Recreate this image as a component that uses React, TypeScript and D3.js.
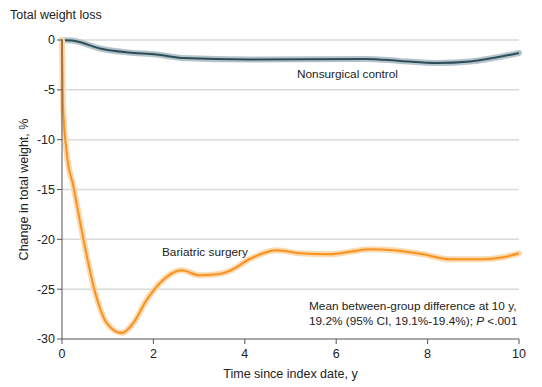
import React from "react";
import * as d3 from "d3";

const years = [0, 2, 4, 6, 8, 10];
const pctTicks = [0, -5, -10, -15, -20, -25, -30];

const surgeryYears = [0, 0.02, 0.1, 0.25, 0.47, 0.69, 0.98, 1.31, 1.56, 1.85, 2.14, 2.62, 3.0, 3.4, 3.7, 4.1, 4.7, 5.2, 5.86, 6.3, 6.74, 7.24, 7.9, 8.49, 9.2, 9.65, 10];
const surgeryPct = [0, -6.4, -11.2, -14.7, -20, -24.7, -28.4, -29.4, -28.4, -26.1, -24.4, -23.1, -23.6, -23.5, -23.1, -22.0, -21.1, -21.4, -21.5, -21.25, -21.0, -21.1, -21.5, -22.0, -22.0, -21.8, -21.4];

const controlYears = [0, 0.25, 0.83, 1.45, 2.07, 2.62, 4.1, 6.65, 7.4, 8.2, 8.93, 10];
const controlPct = [0, -0.07, -0.85, -1.25, -1.45, -1.8, -1.95, -1.9, -2.1, -2.3, -2.15, -1.3];

const width = 542;
const height = 387;
const margin = { top: 40, left: 62, bottom: 48, right: 23 };
const font = "'Liberation Sans Narrow', 'Liberation Sans', sans-serif";

const x = d3.scaleLinear().domain([0, 10]).range([margin.left, width - margin.right]);
const y = d3.scaleLinear().domain([0, -30]).range([margin.top, height - margin.bottom]);

const line = d3
  .line<[number, number]>()
  .x((d) => x(d[0]))
  .y((d) => y(d[1]))
  .curve(d3.curveMonotoneX);

export default function App() {
  const surgery = line(surgeryYears.map((t, i) => [t, surgeryPct[i]] as [number, number])) || "";
  const control = line(controlYears.map((t, i) => [t, controlPct[i]] as [number, number])) || "";
  const [x0, x1] = x.range();
  const [y0, y1] = y.range();

  return (
    <svg width={width} height={height} style={{ position: "absolute", left: 0, top: 0, fontFamily: font }}>
      <text x={10} y={19} fontSize={12.5} fill="#222">Total weight loss</text>

      {pctTicks.slice(0, -1).map((v) => (
        <line key={v} x1={x0} x2={x1} y1={y(v)} y2={y(v)} stroke="#d9d9d9" strokeWidth={1.5} />
      ))}

      <path d={control} fill="none" stroke="#b3c4cb" strokeWidth={6} strokeLinecap="round" />
      <path d={control} fill="none" stroke="#2e4d58" strokeWidth={2} />
      <path d={surgery} fill="none" stroke="#fcd9b0" strokeWidth={6} strokeLinecap="round" />
      <path d={surgery} fill="none" stroke="#f7931e" strokeWidth={2} />

      <line x1={x0} x2={x0} y1={y0 - 1} y2={y1} stroke="#555" strokeWidth={1} />
      <line x1={x0} x2={x1} y1={y1} y2={y1} stroke="#555" strokeWidth={1} />
      {pctTicks.map((v) => (
        <g key={v}>
          <line x1={x0 - 5} x2={x0} y1={y(v)} y2={y(v)} stroke="#555" />
          <text x={x0 - 7} y={y(v)} dy="0.35em" textAnchor="end" fontSize={12.5} fill="#222">
            {String(v)}
          </text>
        </g>
      ))}
      {years.map((v) => (
        <g key={v}>
          <line x1={x(v)} x2={x(v)} y1={y1} y2={y1 + 5} stroke="#555" />
          <text x={x(v)} y={y1 + 19} textAnchor="middle" fontSize={12.5} fill="#222">{v}</text>
        </g>
      ))}

      <text x={(x0 + x1) / 2} y={378} textAnchor="middle" fontSize={12.5} fill="#222">Time since index date, y</text>
      <text transform={`translate(28,${(y0 + y1) / 2}) rotate(-90)`} textAnchor="middle" fontSize={12.5} fill="#222">
        Change in total weight, %
      </text>

      <text x={297} y={78} fontSize={11.8} fill="#222">Nonsurgical control</text>
      <text x={162} y={256} fontSize={11.8} fill="#222">Bariatric surgery</text>
      <text x={309} y={310} fontSize={11.8} fill="#222">Mean between-group difference at 10 y,</text>
      <text x={309} y={325} fontSize={11.8} fill="#222">
        19.2% (95% CI, 19.1%-19.4%); <tspan fontStyle="italic">P</tspan> &lt;.001
      </text>
    </svg>
  );
}
